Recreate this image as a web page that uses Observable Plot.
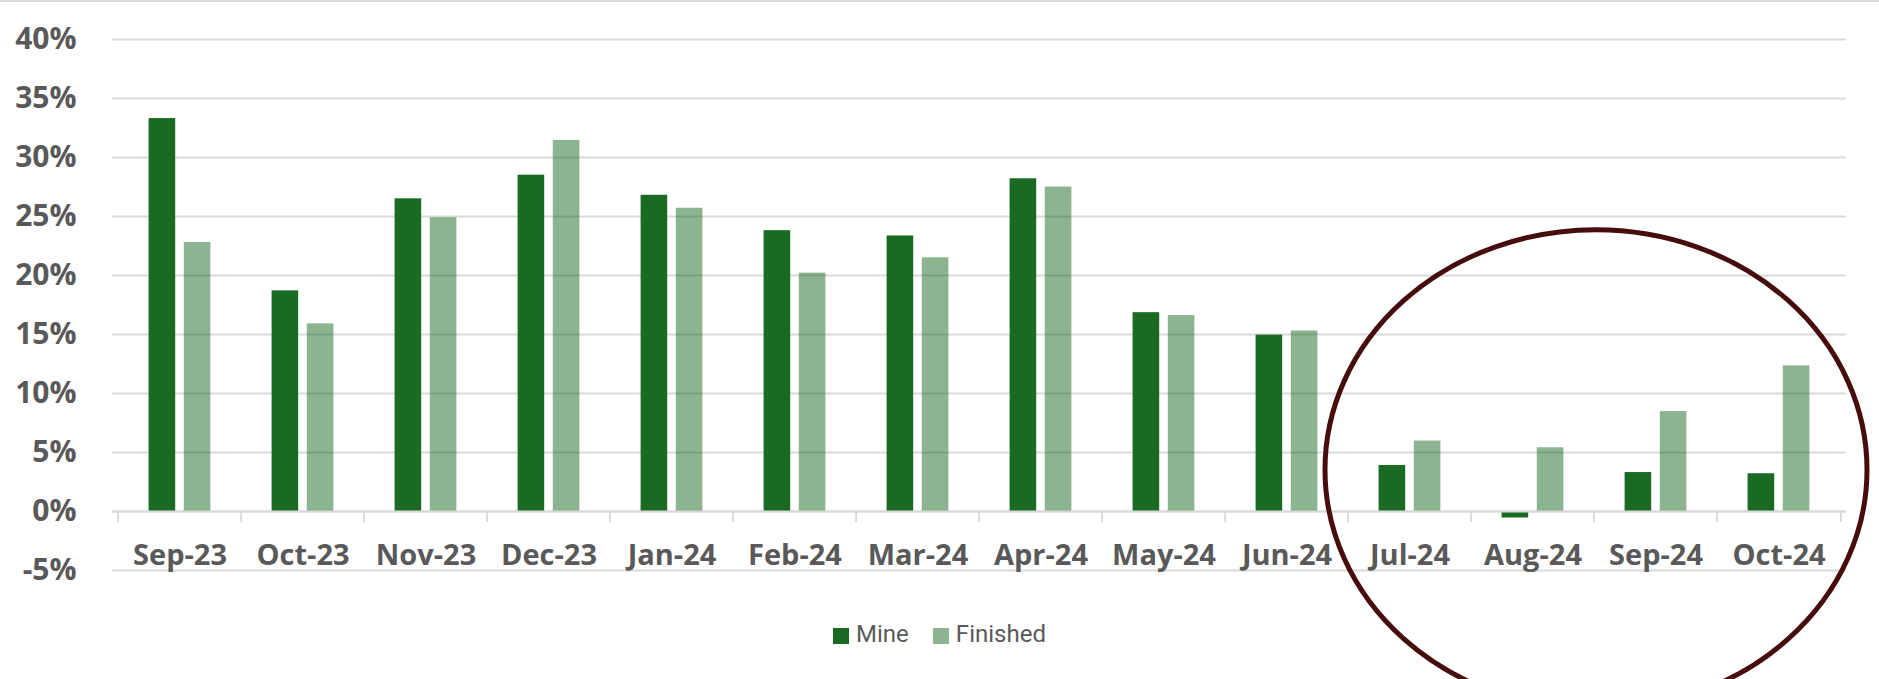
<!DOCTYPE html>
<html>
<head>
<meta charset="utf-8">
<script src="https://cdn.jsdelivr.net/npm/d3@7"></script>
<script src="https://cdn.jsdelivr.net/npm/@observablehq/plot@0.6"></script>
<style>
  html, body { margin: 0; padding: 0; background: #fff; }
  #wrap { position: relative; width: 1879px; height: 679px; overflow: hidden; background: #fff; }
  #topline { position: absolute; left: 0; top: 0; width: 1879px; height: 1.5px; background: #d9d9d9; }
  #legend { position: absolute; left: 0; top: 622px; width: 1879px; display: flex; justify-content: center; gap: 24px;
            font-family: Roboto, "Liberation Sans", sans-serif; font-size: 24px; line-height: 24px; color: #595959; }
  .item { display: flex; align-items: center; gap: 7px; }
  .sw { width: 16px; height: 16px; margin-top: 3px; }
</style>
</head>
<body>
<div id="wrap">
  <div id="chart"></div>
  <div id="topline"></div>
  <div id="legend"></div>
</div>
<script>
// ---- data ----
const months = ["Sep-23","Oct-23","Nov-23","Dec-23","Jan-24","Feb-24","Mar-24","Apr-24","May-24","Jun-24","Jul-24","Aug-24","Sep-24","Oct-24"];
const mine = [33.3, 18.7, 26.5, 28.5, 26.8, 23.8, 23.35, 28.2, 16.85, 14.95, 3.9, -0.55, 3.3, 3.2];
const finished = [22.8, 15.9, 24.9, 31.45, 25.7, 20.2, 21.5, 27.5, 16.6, 15.3, 5.97, 5.4, 8.47, 12.34];
const seriesNames = ["Mine", "Finished"];
const yTicks = [-5, 0, 5, 10, 15, 20, 25, 30, 35, 40];

// ---- styles ----
const green = "#1b6a24";
const finishedOpacity = 0.5;
const gridColor = "#d9d9d9";
const textColor = "#595959";

const rows = months.map((m, i) => ({month: m, mine: mine[i], finished: finished[i]}));

const W = 1879, H = 605, ML = 112, MR = 33, MT = 39, MB = 35;
const bw = (W - ML - MR) / months.length;

const svg = Plot.plot({
  width: W,
  height: H,
  marginLeft: ML,
  marginRight: MR,
  marginTop: MT,
  marginBottom: MB,
  style: {fontFamily: "'Open Sans', 'DejaVu Sans', sans-serif", overflow: "visible", background: "transparent"},
  x: {domain: months, padding: 0, axis: null},
  y: {domain: [-5, 40], axis: null},
  marks: [
    Plot.ruleY(yTicks, {stroke: gridColor, strokeWidth: 1.8}),
    Plot.barY(rows, {x: "month", y: "mine", fill: green, insetLeft: 30.6, insetRight: 65.8}),
    Plot.barY(rows, {x: "month", y: "finished", fill: green, fillOpacity: finishedOpacity, insetLeft: 65.8, insetRight: 30.6}),
    Plot.ruleY([0], {stroke: gridColor, strokeWidth: 2}),
    Plot.ruleX(months, {x: d => d, dx: -bw / 2, y1: () => 0, y2: () => 0, insetBottom: -11, stroke: gridColor, strokeWidth: 1.8}),
    Plot.ruleX([months[months.length - 1]], {x: d => d, dx: bw / 2, y1: () => 0, y2: () => 0, insetBottom: -11, stroke: gridColor, strokeWidth: 1.8}),
    Plot.axisY(yTicks, {tickSize: 0, tickPadding: 36, tickFormat: d => `${d}%`, fontSize: 30, fontWeight: 700, color: textColor, label: null}),
    Plot.text(months, {x: d => d, y: () => 0, dy: 44, fontSize: 29, fontWeight: 700, fill: textColor})
  ]
});

// annotation ellipse around the last months
const xs = svg.scale("x"), ys = svg.scale("y");
const cx = xs.apply("Sep-24");
const cy = ys.apply(3.5);
d3.select(svg).append("ellipse")
  .attr("cx", cx + 2).attr("cy", cy)
  .attr("rx", 271).attr("ry", 240)
  .attr("fill", "none")
  .attr("stroke", "#470c0c")
  .attr("stroke-width", 5);

document.getElementById("chart").appendChild(svg);

// legend below the chart
const legend = document.getElementById("legend");
seriesNames.forEach((name, i) => {
  const item = document.createElement("div");
  item.className = "item";
  const sw = document.createElement("div");
  sw.className = "sw";
  sw.style.background = green;
  if (i === 1) sw.style.opacity = finishedOpacity;
  const label = document.createElement("span");
  label.textContent = name;
  item.appendChild(sw);
  item.appendChild(label);
  legend.appendChild(item);
});
</script>
</body>
</html>
